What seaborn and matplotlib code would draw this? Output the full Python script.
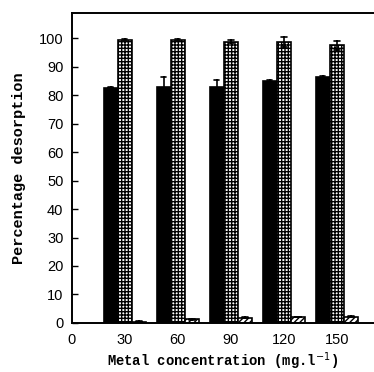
import matplotlib
matplotlib.use("Agg")
import matplotlib.pyplot as plt
import seaborn as sns
import pandas as pd

# Metal concentration (mg/l) and percentage desorption for three eluents
concentrations = [30, 60, 90, 120, 150]
series_names = ["A", "B", "C"]
mean_a = [82.7, 83.0, 83.0, 84.9, 86.3]
err_a = [0.3, 3.3, 2.3, 0.3, 0.3]
mean_b = [99.5, 99.5, 98.8, 98.7, 97.5]
err_b = [0.3, 0.3, 0.6, 1.6, 1.7]
mean_c = [0.4, 1.2, 1.8, 2.0, 2.2]
err_c = [0.1, 0.1, 0.1, 0.1, 0.1]

# Build a long table with two replicates per cell so the interval spans mean +/- err
rows = []
for name, means, errs in zip(series_names, [mean_a, mean_b, mean_c], [err_a, err_b, err_c]):
    for conc, m, e in zip(concentrations, means, errs):
        rows.append({"conc": conc, "series": name, "value": m - e})
        rows.append({"conc": conc, "series": name, "value": m + e})
df = pd.DataFrame(rows)

sns.set_style("white")
plt.rcParams["hatch.linewidth"] = 1.0
plt.rcParams["text.color"] = "black"
plt.rcParams["axes.labelcolor"] = "black"
plt.rcParams["xtick.color"] = "black"
plt.rcParams["ytick.color"] = "black"

fig = plt.figure(figsize=(3.74, 3.72), dpi=100)
ax = fig.add_axes([0.192, 0.132, 0.808, 0.834])

sns.barplot(
    data=df, x="conc", y="value", hue="series", native_scale=True,
    estimator="mean", errorbar=lambda v: (v.min(), v.max()),
    palette=["black", "white", "white"], width=0.8, gap=0,
    err_kws={"color": "black", "linewidth": 1.2}, capsize=0.3,
    legend=False, ax=ax, edgecolor="black", linewidth=1.2,
)

# Fill patterns: solid, checkered, diagonal
n = len(concentrations)
for i, patch in enumerate(ax.patches):
    group = i // n
    if group == 1:
        patch.set_hatch("+++++")
    elif group == 2:
        patch.set_hatch("//////")

ax.set_xlim(0, 171)
ax.set_ylim(0, 109)
ax.set_xticks([0, 30, 60, 90, 120, 150])
ax.set_xticklabels(["0", "30", "60", "90", "120", "150"])
ax.set_yticks(range(0, 101, 10))

for lab in ax.get_xticklabels() + ax.get_yticklabels():
    lab.set_fontfamily("Liberation Sans")
    lab.set_fontsize(10.5)
    lab.set_color("black")

ax.tick_params(axis="y", direction="in", length=4, width=1.0, pad=6, left=True)
ax.tick_params(axis="x", length=0, pad=7, bottom=True)

for side in ["left", "top", "bottom"]:
    ax.spines[side].set_visible(True)
    ax.spines[side].set_linewidth(1.4)
    ax.spines[side].set_color("black")
ax.spines["right"].set_visible(False)

ax.set_xlabel("Metal concentration (mg.l$^{-1}$)", fontfamily="Liberation Mono",
              fontweight="bold", fontsize=10, labelpad=3, color="black")
ax.set_ylabel("Percentage desorption", fontfamily="Liberation Mono",
              fontweight="bold", fontsize=11, labelpad=9, color="black")

fig.savefig("out.png", dpi=100)
